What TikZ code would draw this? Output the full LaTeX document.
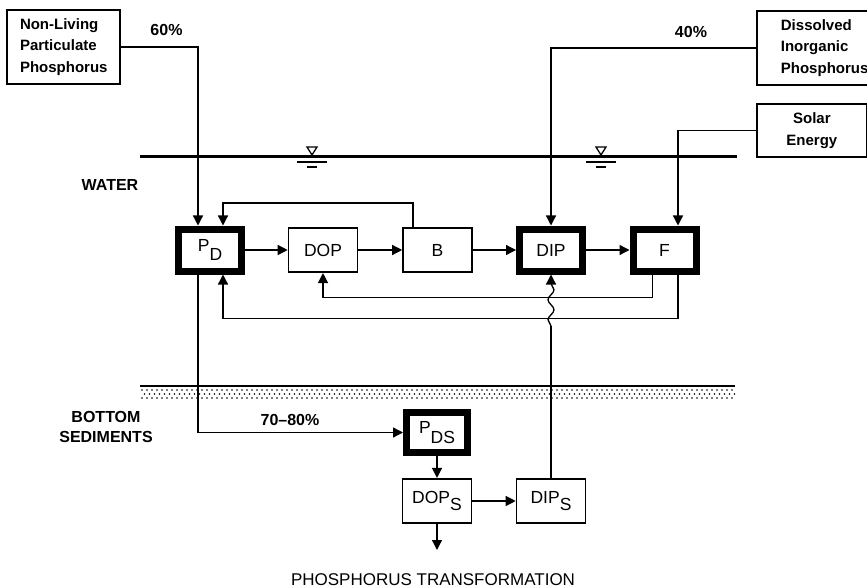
\documentclass[tikz,border=0pt]{standalone}
\usepackage{fontspec}
\setmainfont{Liberation Sans}
\usetikzlibrary{arrows.meta,decorations.pathmorphing}
\newcommand{\sdrop}[2][7pt]{\raisebox{-#1}{#2}}

\begin{document}
\begin{tikzpicture}[x=1pt,y=-1pt,
    every node/.style={inner sep=0pt},
    cell/.style={draw, line width=1.6pt, minimum width=69pt, minimum height=44.5pt, font=\fontsize{17.5}{20}\selectfont},
    heavycell/.style={cell, line width=7pt, minimum width=63pt, minimum height=42pt},
    source/.style={draw, line width=1.8pt, align=left, text width=87pt, inner xsep=13pt, minimum height=74pt, font=\fontsize{15}{21.5}\selectfont\bfseries},
    tag/.style={font=\fontsize{16}{20}\selectfont\bfseries, align=center},
    flow/.style={-{Triangle[length=10pt,width=10pt]}, line width=1.3pt}]
    \useasboundingbox (0,0) rectangle (867,588);
    % water surface and bottom
    \draw[line width=3pt] (140,157) -- (737,157);
    \foreach \wx in {312,601} {
        \draw[line width=1.3pt] (\wx-5,147) -- (\wx+5,147) -- (\wx,155) -- cycle;
        \draw[line width=1.3pt] (\wx-15,162) -- (\wx+15,162);
        \draw[line width=1.3pt] (\wx-5,167) -- (\wx+5,167);
    }
    \foreach \dx in {0,...,118} {
        \fill (142+5*\dx,390) circle (0.9);
        \fill (144.5+5*\dx,394) circle (0.9);
        \fill (142+5*\dx,398) circle (0.9);
    }
    \draw[line width=2.5pt] (140,386) -- (735,386);
    \node[tag] (water) at (110,184.5) {WATER};
    \node[tag] (sed) at (106,426.5) {BOTTOM\\SEDIMENTS};
    % outside inputs
    \node[source] (nlp) at (63.5,47) {Non-Living\\Particulate\\Phosphorus};
    \node[source, anchor=west, inner xsep=24pt] (dipsrc) at (756,48) {Dissolved\\Inorganic\\Phosphorus};
    \node[source, anchor=west, align=center, text width=70pt, inner xsep=20pt, minimum height=53pt] (solar) at (756,130.5) {Solar\\Energy};
    \node[tag] (pct60) at (166.5,30) {60\%};
    \node[tag] (pct40) at (691,32) {40\%};
    % compartments in the water
    \node[heavycell] (pd) at (210,250) {P\sdrop[9pt]{D}};
    \node[cell] (dop) at (323,250) {DOP};
    \node[cell] (b) at (437.5,250) {B};
    \node[heavycell] (dip) at (551,250) {DIP};
    \node[heavycell] (f) at (664.5,250) {F};
    % compartments in the sediments
    \node[heavycell, minimum width=61pt, minimum height=40pt] (pds) at (437,432.5) {P\sdrop[10pt]{DS}};
    \node[cell] (dops) at (437,501) {DOP\sdrop{S}};
    \node[cell] (dips) at (551,501) {DIP\sdrop{S}};
    \node[tag] (pct7080) at (290,420) {70--80\%};
    \coordinate (sink) at (437,550);
    \coordinate (wvlo) at (551,326);
    \coordinate (wvhi) at (551,283);
    \node[font=\fontsize{17}{20}\selectfont] (ptrans) at (433,580) {PHOSPHORUS TRANSFORMATION};
    % flows
    \draw[flow] (nlp.east) -| ([xshift=-12pt]pd.north);
    \draw[flow] (dipsrc.west) -| (dip.north);
    \draw[flow] (solar.west) -| ([xshift=13.5pt]f.north);
    \draw[flow] (pd) -- (dop);
    \draw[flow] (dop) -- (b);
    \draw[flow] (b) -- (dip);
    \draw[flow] (dip) -- (f);
    \draw[flow] ([xshift=-24.5pt]b.north) -- ++(0,-24) -| ([xshift=13pt]pd.north);
    \draw[flow] ([xshift=-12pt]f.south) -- ++(0,23) -| (dop.south);
    \draw[flow] ([xshift=13.5pt]f.south) -- ++(0,44) -| ([xshift=13pt]pd.south);
    \draw[flow] ([xshift=-12pt]pd.south) |- (pds.west);
    \draw[flow] (pds) -- (dops);
    \draw[flow] (dops) -- (dips);
    \draw[flow] (dops) -- (sink);
    \draw[line width=1.3pt] (dips.north) -- (wvlo);
    \draw[line width=1.3pt, decorate, decoration={snake, amplitude=3pt, segment length=20pt}] (wvlo) -- (wvhi);
    \draw[flow] (wvhi) -- (dip.south);
\end{tikzpicture}
\end{document}
